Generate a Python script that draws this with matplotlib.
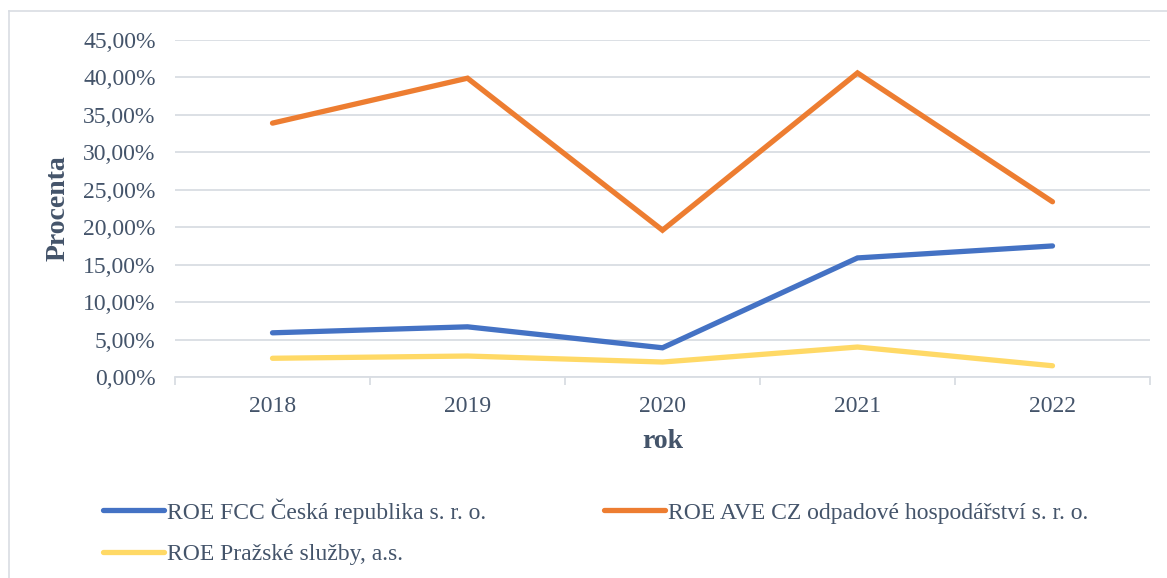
import matplotlib
matplotlib.use("Agg")
import matplotlib.pyplot as plt
from matplotlib.lines import Line2D
from matplotlib.ticker import FuncFormatter, FixedLocator

years = ["2018", "2019", "2020", "2021", "2022"]
fcc = [5.9, 6.7, 3.9, 15.9, 17.5]
ave = [33.9, 39.9, 19.6, 40.6, 23.4]
psl = [2.5, 2.8, 2.0, 4.0, 1.5]
series_names = [
    "ROE FCC Česká republika s. r. o.",
    "ROE AVE CZ odpadové hospodářství s. r. o.",
    "ROE Pražské služby, a.s.",
]
colors = ["#4472C4", "#ED7D31", "#FFD966"]
yticks = [0, 5, 10, 15, 20, 25, 30, 35, 40, 45]

TXT = "#44546A"
GRID = "#D9DDE3"
plt.rcParams["font.family"] = ["Liberation Serif", "DejaVu Serif"]

W, H = 1167, 578
fig = plt.figure(figsize=(W / 100, H / 100), dpi=100)
ax = fig.add_axes([175 / W, 1 - 377 / H, (1150 - 175) / W, (377 - 40) / H])

x = list(range(len(years)))
for vals, c in zip([fcc, ave, psl], colors):
    ax.plot(x, vals, color=c, lw=3.8, solid_capstyle="round", solid_joinstyle="miter", zorder=3)

ax.set_xlim(-0.5, len(years) - 0.5)
ax.set_ylim(0, 45)
ax.yaxis.set_major_locator(FixedLocator(yticks))
ax.yaxis.set_major_formatter(FuncFormatter(lambda v, p: f"{v:.2f}".replace(".", ",") + "%"))
ax.grid(axis="y", color=GRID, lw=1.3)
ax.set_axisbelow(True)
ax.set_xticks(x)
ax.set_xticklabels(years)
ax.set_xticks([i - 0.5 for i in range(len(years) + 1)], minor=True)
ax.tick_params(axis="x", which="major", length=0, pad=13.5, labelsize=17, labelcolor=TXT)
ax.tick_params(axis="x", which="minor", length=6, color=GRID, width=1.3)
ax.tick_params(axis="y", length=0, pad=14, labelsize=17, labelcolor=TXT)
for s in ["top", "right", "left"]:
    ax.spines[s].set_visible(False)
ax.spines["bottom"].set_color(GRID)
ax.spines["bottom"].set_linewidth(1.3)

ax.set_ylabel("Procenta", fontsize=20, fontweight="bold", color=TXT, labelpad=9)
ax.set_xlabel("rok", fontsize=20, fontweight="bold", color=TXT, labelpad=9)

# legend filled row-wise: reorder for matplotlib's column-major filling
order = [0, 2, 1]
handles = [Line2D([0], [0], color=colors[i], lw=3.8, solid_capstyle="round") for i in order]
labels = [series_names[i] for i in order]
fig.legend(handles, labels, loc="upper left", bbox_to_anchor=(103 / W, 1 - 498 / H),
           ncol=2, frameon=False, fontsize=17, labelcolor=TXT,
           handlelength=2.6, handletextpad=0.1, columnspacing=5.0, labelspacing=0.85,
           borderaxespad=0, borderpad=0)

# figure border (top and left visible)
fig.add_artist(Line2D([9 / W, 1], [1 - 11 / H, 1 - 11 / H], color="#D9DDE3", lw=1.2))
fig.add_artist(Line2D([9 / W, 9 / W], [0, 1 - 11 / H], color="#D9DDE3", lw=1.2))

fig.savefig("out.png", dpi=100)
